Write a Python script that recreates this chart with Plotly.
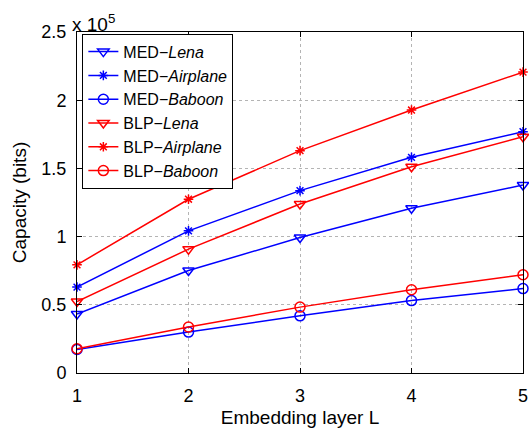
import plotly.graph_objects as go

layers = [1, 2, 3, 4, 5]
med_lena = [0.432, 0.751, 0.993, 1.208, 1.378]
med_airplane = [0.630, 1.042, 1.337, 1.581, 1.769]
med_baboon = [0.173, 0.300, 0.419, 0.531, 0.619]
blp_lena = [0.524, 0.908, 1.239, 1.512, 1.732]
blp_airplane = [0.793, 1.274, 1.630, 1.928, 2.206]
blp_baboon = [0.178, 0.337, 0.483, 0.610, 0.720]

y_ticks = [0, 0.5, 1, 1.5, 2, 2.5]
y_tick_text = ["0", "0.5", "1", "1.5", "2", "2.5"]

series = [
    ("MED−<i>Lena</i>", med_lena, "blue", "triangle-down-open", 10),
    ("MED−<i>Airplane</i>", med_airplane, "blue", "asterisk-open", 8),
    ("MED−<i>Baboon</i>", med_baboon, "blue", "circle-open", 10),
    ("BLP−<i>Lena</i>", blp_lena, "red", "triangle-down-open", 10),
    ("BLP−<i>Airplane</i>", blp_airplane, "red", "asterisk-open", 8),
    ("BLP−<i>Baboon</i>", blp_baboon, "red", "circle-open", 10),
]

fig = go.Figure()
for name, vals, col, sym, sz in series:
    fig.add_trace(go.Scatter(
        x=layers, y=vals, name=name, mode="lines+markers",
        line=dict(color=col, width=1.5),
        marker=dict(symbol=sym, size=sz, color=col, line=dict(color=col, width=1.5)),
        cliponaxis=False,
    ))

font = "Liberation Sans, Arial, sans-serif"
fig.update_layout(
    width=529, height=433,
    margin=dict(l=77, r=6, t=32, b=60, autoexpand=False),
    paper_bgcolor="white", plot_bgcolor="white",
    font=dict(family=font, size=16, color="black"),
    showlegend=True,
    legend=dict(
        x=0.012, y=0.995, xanchor="left", yanchor="top",
        bgcolor="white", bordercolor="black", borderwidth=1,
        font=dict(family=font, size=16, color="black"),
        tracegroupgap=0, itemwidth=30,
    ),
    xaxis=dict(
        range=[1, 5], tickvals=layers, ticktext=[str(v) for v in layers],
        showline=True, linecolor="black", linewidth=1, mirror="ticks",
        ticks="inside", ticklen=5, tickcolor="black",
        showgrid=True, gridcolor="#b4b4b4", griddash="dot", gridwidth=1,
        zeroline=False, automargin=False, ticklabelstandoff=6,
        title=dict(text="Embedding layer L", font=dict(size=19), standoff=6),
        tickfont=dict(size=18),
    ),
    yaxis=dict(
        range=[0, 2.5], tickvals=y_ticks, ticktext=y_tick_text,
        showline=True, linecolor="black", linewidth=1, mirror="ticks",
        ticks="inside", ticklen=5, tickcolor="black",
        showgrid=True, gridcolor="#b4b4b4", griddash="dot", gridwidth=1,
        zeroline=False, automargin=False, ticklabelstandoff=6,
        title=dict(text="Capacity (bits)", font=dict(size=19), standoff=9),
        tickfont=dict(size=18),
    ),
    annotations=[dict(
        x=0, y=1, xref="paper", yref="paper", xanchor="left", yanchor="bottom",
        text="x 10<sup>5</sup>", showarrow=False, font=dict(size=19, family=font),
        yshift=-5, xshift=-7,
    )],
)

fig.write_html("out.html")
